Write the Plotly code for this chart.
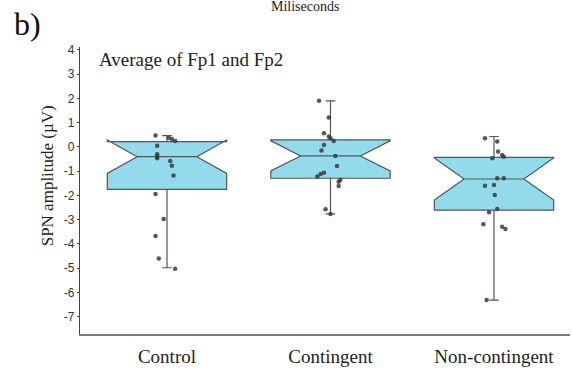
import plotly.graph_objects as go

categories = ["Control", "Contingent", "Non-contingent"]
cat_pos = [0, 1, 2]

# box statistics (µV)
q1 = [-1.75, -1.29, -2.60]
median = [-0.40, -0.37, -1.32]
q3 = [0.22, 0.29, -0.43]
lowerfence = [-4.98, -2.76, -6.31]
upperfence = [0.47, 1.90, 0.43]
notchspan = [0.69, 0.62, 0.87]

# individual subject values and their horizontal scatter offsets
control_vals = [0.47, 0.38, 0.33, 0.25, 0.05, -0.30, -0.40, -0.47, -0.58, -0.77,
                -1.18, -1.94, -2.97, -3.67, -4.60, -5.02]
control_off = [-0.07, 0.01, 0.03, 0.05, -0.06, -0.06, -0.06, -0.06, 0.02, 0.03,
               0.04, -0.07, -0.02, -0.07, -0.05, 0.05]
contingent_vals = [1.90, 1.21, 0.56, 0.43, 0.36, 0.25, 0.08, -0.15, -0.37, -0.78,
                   -1.06, -1.11, -1.22, -1.36, -1.43, -1.61, -2.57, -2.76]
contingent_off = [-0.07, -0.01, -0.04, -0.01, 0.0, 0.02, -0.04, -0.055, 0.03, 0.04,
                  -0.04, -0.06, -0.08, 0.06, 0.05, 0.05, -0.03, 0.0]
noncont_vals = [0.36, 0.22, -0.19, -0.33, -0.40, -0.47, -1.29, -1.29, -1.57, -1.60,
                -1.98, -2.56, -2.69, -3.19, -3.29, -3.38, -6.31]
noncont_off = [-0.055, 0.02, 0.025, 0.05, 0.06, -0.01, 0.02, 0.06, 0.0, -0.055,
               0.005, 0.02, -0.03, -0.065, 0.05, 0.07, -0.045]

y_ticks = [4, 3, 2, 1, 0, -1, -2, -3, -4, -5, -6, -7]

fig = go.Figure()

fig.add_trace(go.Box(
    x=cat_pos, q1=q1, median=median, q3=q3,
    lowerfence=lowerfence, upperfence=upperfence, notchspan=notchspan,
    notched=True, notchwidth=0.25, width=0.73, whiskerwidth=0.08,
    fillcolor="#93dbeb", line=dict(color="#4b585d", width=1.2),
    boxpoints=False, showlegend=False, hoverinfo="skip",
))

for pos, vals, offs in [(0, control_vals, control_off),
                        (1, contingent_vals, contingent_off),
                        (2, noncont_vals, noncont_off)]:
    fig.add_trace(go.Scatter(
        x=[pos + o for o in offs], y=vals, mode="markers",
        marker=dict(size=4.5, color="#3a3a3a", opacity=0.85),
        showlegend=False, hoverinfo="skip",
    ))

serif = "Liberation Serif, Times New Roman, serif"

fig.update_layout(
    width=572, height=370,
    margin=dict(l=80, r=2, t=47, b=36),
    paper_bgcolor="white", plot_bgcolor="white",
    xaxis=dict(
        range=[-0.532, 2.465], tickvals=cat_pos, ticktext=categories,
        showgrid=False, zeroline=False, showline=True, linecolor="#7a7a7a", linewidth=1.5,
        ticks="outside", ticklen=4, tickcolor="rgba(0,0,0,0)",
        tickfont=dict(family=serif, size=19, color="#222222"),
    ),
    yaxis=dict(
        range=[-7.71, 4.12], tickvals=y_ticks, ticktext=[str(v) for v in y_ticks],
        showgrid=False, zeroline=False, showline=True, linecolor="#444444", linewidth=1.2,
        ticks="outside", ticklen=2, tickcolor="#444444",
        tickfont=dict(family="Liberation Sans, Arial, sans-serif", size=12, color="#333333"),
    ),
    annotations=[
        dict(text="b)", xref="paper", yref="paper", x=-0.139, y=1.080, xanchor="left",
             yanchor="middle", showarrow=False,
             font=dict(family=serif, size=32, color="#111111")),
        dict(text="Average of Fp1 and Fp2", xref="paper", yref="paper", x=0.035, y=0.958,
             xanchor="left", yanchor="middle", showarrow=False,
             font=dict(family=serif, size=19, color="#222222")),
        dict(text="Miliseconds", xref="paper", yref="paper", x=0.459, y=1.142,
             xanchor="center", yanchor="middle", showarrow=False,
             font=dict(family=serif, size=14, color="#222222")),
        dict(text="SPN amplitude (µV)", xref="paper", yref="paper", x=-0.067, y=0.55,
             xanchor="center", yanchor="middle", textangle=-90, showarrow=False,
             font=dict(family=serif, size=17, color="#222222")),
    ],
)

fig.write_html("out.html", config={"displayModeBar": False},
               post_script="document.body.style.margin='0';")
